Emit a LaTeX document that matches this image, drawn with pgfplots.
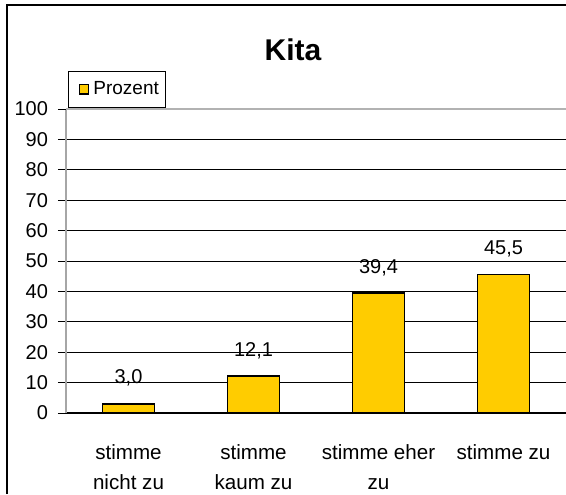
\documentclass[border=0pt]{standalone}
\usepackage{fontspec}
\setmainfont{Liberation Sans}
\usepackage{pgfplots}
\pgfplotsset{compat=1.18}
\definecolor{barY}{HTML}{FFCC00}
\begin{document}
\begin{tikzpicture}
\useasboundingbox (0pt,0pt) rectangle (283pt,247pt);
\draw[line width=0.9pt] (3.5pt,0pt) -- (3.5pt,244.5pt) -- (283pt,244.5pt);
\node[font=\fontsize{15}{18}\selectfont\bfseries, anchor=base] at (146.5pt,217pt) {Kita};
\begin{axis}[
  at={(33pt,40.5pt)}, anchor=origin,
  scale only axis, width=250pt, height=152pt,
  ymin=0, ymax=100, xmin=0, xmax=4,
  axis x line*=bottom, axis y line*=left,
  x axis line style={black, line width=0.6pt, -},
  y axis line style={gray!70, line width=0.6pt, -},
  ytick={0,10,...,90},
  extra y ticks={100},
  extra y tick style={grid style={gray!60, line width=0.6pt}},
  ymajorgrids,
  grid style={black, line width=0.5pt},
  tick align=outside,
  major tick length=4pt,
  ytick style={black, line width=0.5pt},
  yticklabel style={font=\fontsize{10}{12}\selectfont, xshift=-1.5pt},
  /pgf/number format/assume math mode=true,
  xtick={0.5,1.5,2.5,3.5},
  xticklabels={{stimme\\nicht zu},{stimme\\kaum zu},{stimme eher\\zu},{stimme zu}},
  xticklabel style={font=\fontsize{10.3}{15}\selectfont, align=center, yshift=-8pt},
  x tick style={draw=none},
  minor xtick={0,1,2,3,4},
  minor x tick style={black, line width=0.5pt},
  minor tick length=3pt,
  ybar, bar width=26pt,
  nodes near coords,
  nodes near coords style={font=\fontsize{10}{12}\selectfont, yshift=5pt,
    /pgf/number format/.cd, fixed, fixed zerofill, precision=1, use comma, assume math mode=true},
  legend style={at={(0.004,1.125)}, anchor=north west, draw=black, line width=0.4pt,
    font=\fontsize{9.5}{11}\selectfont, inner xsep=1.5pt, inner ysep=3pt},
  legend image code/.code={\path[draw=none, fill=none] (0pt,0pt) -- (9pt,0pt); \draw[#1, line width=0.6pt] (4pt,-2.3pt) rectangle (8.6pt,2.3pt);},
]
\addplot[fill=barY, draw=black, line width=0.75pt] coordinates {(0.5,3.0) (1.5,12.1) (2.5,39.4) (3.5,45.5)};
\addlegendentry{Prozent}
\end{axis}
\end{tikzpicture}
\end{document}
